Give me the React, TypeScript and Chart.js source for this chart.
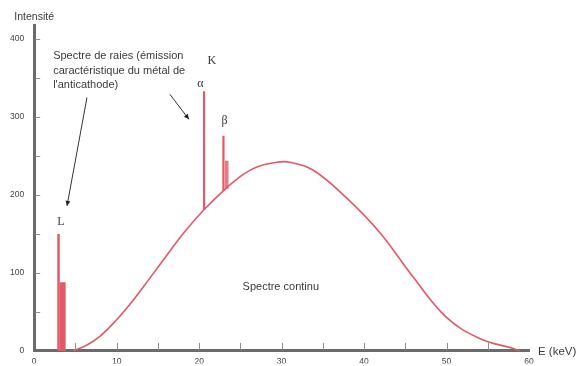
import React, { useEffect, useRef } from "react";
import { Chart, registerables } from "chart.js";

Chart.register(...registerables);

// Continuous (bremsstrahlung) spectrum: energy (keV) and intensity
const continuousE = [4.7, 6.3, 8.0, 10.0, 12.0, 14.0, 16.1, 18.1, 20.5, 22.9, 25.3, 27.0, 29.4, 31.0, 33.8, 37.9, 41.9, 46.0, 50.0, 54.0, 58.1, 58.9];
const continuousI = [0, 7, 19, 40, 65, 93, 123, 151, 180, 205, 226, 236, 242, 242, 232, 196, 152, 94, 43, 16, 3, 0];

// Characteristic lines: name, energy, base, top
const lineNames = ["Lα", "Lβ", "Kα", "Kβ1", "Kβ2"];
const lineE = [2.95, 3.45, 20.6, 22.95, 23.35];
const lineBase = [0, 0, 181, 205, 208];
const lineTop = [150, 88, 333, 276, 244];

// Axis tick values
const xTicks = [0, 10, 20, 30, 40, 50, 60];
const xMinorTicks = [5, 10, 15, 20, 25, 30, 35, 40, 45, 50, 55];
const yTicks = [0, 100, 200, 300, 400];
const yMinorTicks = [50, 100, 150, 200, 250, 300, 350, 400];

const RED = "rgb(228, 88, 104)";
const lineWidths = [2.5, 6, 2.2, 2.2, 3.5];
const lineColors = [RED, RED, RED, RED, "rgba(228, 88, 104, 0.8)"];

const FONT = "'Liberation Sans', Arial, sans-serif";

const annotationPlugin = {
  id: "annotations",
  afterDatasetsDraw(chart: any) {
    const { ctx, chartArea, scales } = chart;
    const xs = scales.x;
    const ys = scales.y;
    const px = (v: number) => xs.getPixelForValue(v);
    const py = (v: number) => ys.getPixelForValue(v);
    ctx.save();

    // minor tick marks (inside)
    ctx.strokeStyle = "#8a8f99";
    ctx.lineWidth = 1;
    xMinorTicks.forEach((t) => {
      const x = Math.round(px(t)) + 0.5;
      ctx.beginPath();
      ctx.moveTo(x, chartArea.bottom - 1);
      ctx.lineTo(x, chartArea.bottom - 8);
      ctx.stroke();
    });
    yMinorTicks.forEach((t) => {
      const y = Math.round(py(t)) + 0.5;
      ctx.beginPath();
      ctx.moveTo(chartArea.left + 1, y);
      ctx.lineTo(chartArea.left + 6, y);
      ctx.stroke();
    });

    // axis titles
    ctx.fillStyle = "#3a3a3a";
    ctx.font = `10.5px ${FONT}`;
    ctx.textAlign = "center";
    ctx.textBaseline = "middle";
    ctx.fillText("Intensité", chartArea.left, chartArea.top - 8);
    ctx.textAlign = "left";
    ctx.font = `11.5px ${FONT}`;
    ctx.fillText("E (keV)", chartArea.right + 9, chartArea.bottom + 1);

    // description text
    ctx.font = `11px ${FONT}`;
    ctx.textAlign = "left";
    ctx.fillText("Spectre de raies (émission", px(2.3), py(378));
    ctx.fillText("caractéristique du métal de", px(2.3), py(359));
    ctx.fillText("l'anticathode)", px(2.3), py(341));
    ctx.textAlign = "center";
    ctx.fillText("Spectre continu", px(29.9), py(82));

    // line labels
    ctx.font = "12px 'Liberation Serif', 'Times New Roman', serif";
    ctx.fillText("K", px(21.55), py(372));
    ctx.fillText("α", px(20.16), py(342));
    ctx.fillText("β", px(23.07), py(295));
    ctx.fillText("L", px(3.25), py(166));

    // arrows
    const arrow = (x1: number, y1: number, x2: number, y2: number) => {
      const ax = px(x1), ay = py(y1), bx = px(x2), by = py(y2);
      ctx.strokeStyle = "#333";
      ctx.lineWidth = 1;
      ctx.beginPath();
      ctx.moveTo(ax, ay);
      ctx.lineTo(bx, by);
      ctx.stroke();
      const ang = Math.atan2(by - ay, bx - ax);
      const L = 5, W = 2.5;
      ctx.fillStyle = "#222";
      ctx.beginPath();
      ctx.moveTo(bx, by);
      ctx.lineTo(bx - L * Math.cos(ang) + W * Math.sin(ang), by - L * Math.sin(ang) - W * Math.cos(ang));
      ctx.lineTo(bx - L * Math.cos(ang) - W * Math.sin(ang), by - L * Math.sin(ang) + W * Math.cos(ang));
      ctx.closePath();
      ctx.fill();
    };
    arrow(6.4, 325, 3.98, 186);
    arrow(16.46, 329, 18.76, 297);

    ctx.restore();
  },
};

export default function App() {
  const ref = useRef<HTMLCanvasElement | null>(null);

  useEffect(() => {
    if (!ref.current) return;
    const datasets: any[] = [
      {
        label: "Spectre continu",
        data: continuousE.map((e, i) => ({ x: e, y: continuousI[i] })),
        borderColor: RED,
        borderWidth: 1.6,
        pointRadius: 0,
        tension: 0.4,
        fill: false,
      },
      ...lineNames.map((name, i) => ({
        label: name,
        data: [
          { x: lineE[i], y: lineBase[i] },
          { x: lineE[i], y: lineTop[i] },
        ],
        borderColor: lineColors[i],
        borderWidth: lineWidths[i],
        borderCapStyle: "butt",
        pointRadius: 0,
        fill: false,
      })),
    ];

    const chart = new Chart(ref.current, {
      type: "line",
      data: { datasets },
      options: {
        animation: false,
        responsive: false,
        layout: { padding: { top: 25, right: 49, left: 0, bottom: 0 } },
        plugins: { legend: { display: false }, tooltip: { enabled: false } },
        scales: {
          x: {
            type: "linear",
            min: 0,
            max: 60,
            afterBuildTicks: (s: any) => {
              s.ticks = xTicks.map((v) => ({ value: v }));
            },
            afterFit: (s: any) => {
              s.height = 12.5;
            },
            ticks: {
              font: { size: 8.5, family: FONT },
              color: "#444",
              padding: 6,
              maxRotation: 0,
            },
            grid: { display: false, drawTicks: false },
            border: { display: true, color: "#6b6b6b", width: 3 },
          },
          y: {
            type: "linear",
            min: 0,
            max: 418,
            afterBuildTicks: (s: any) => {
              s.ticks = yTicks.map((v) => ({ value: v }));
            },
            afterFit: (s: any) => {
              s.width = 34.2;
            },
            ticks: {
              font: { size: 8.5, family: FONT },
              color: "#444",
              padding: 10,
            },
            grid: { display: false, drawTicks: false },
            border: { display: true, color: "#6b6b6b", width: 3 },
          },
        },
      },
      plugins: [annotationPlugin],
    });
    return () => chart.destroy();
  }, []);

  return (
    <div style={{ position: "fixed", left: 0, top: 0, width: 578, height: 366, background: "#fff" }}>
      <canvas ref={ref} width={578} height={366} style={{ display: "block" }} />
    </div>
  );
}
